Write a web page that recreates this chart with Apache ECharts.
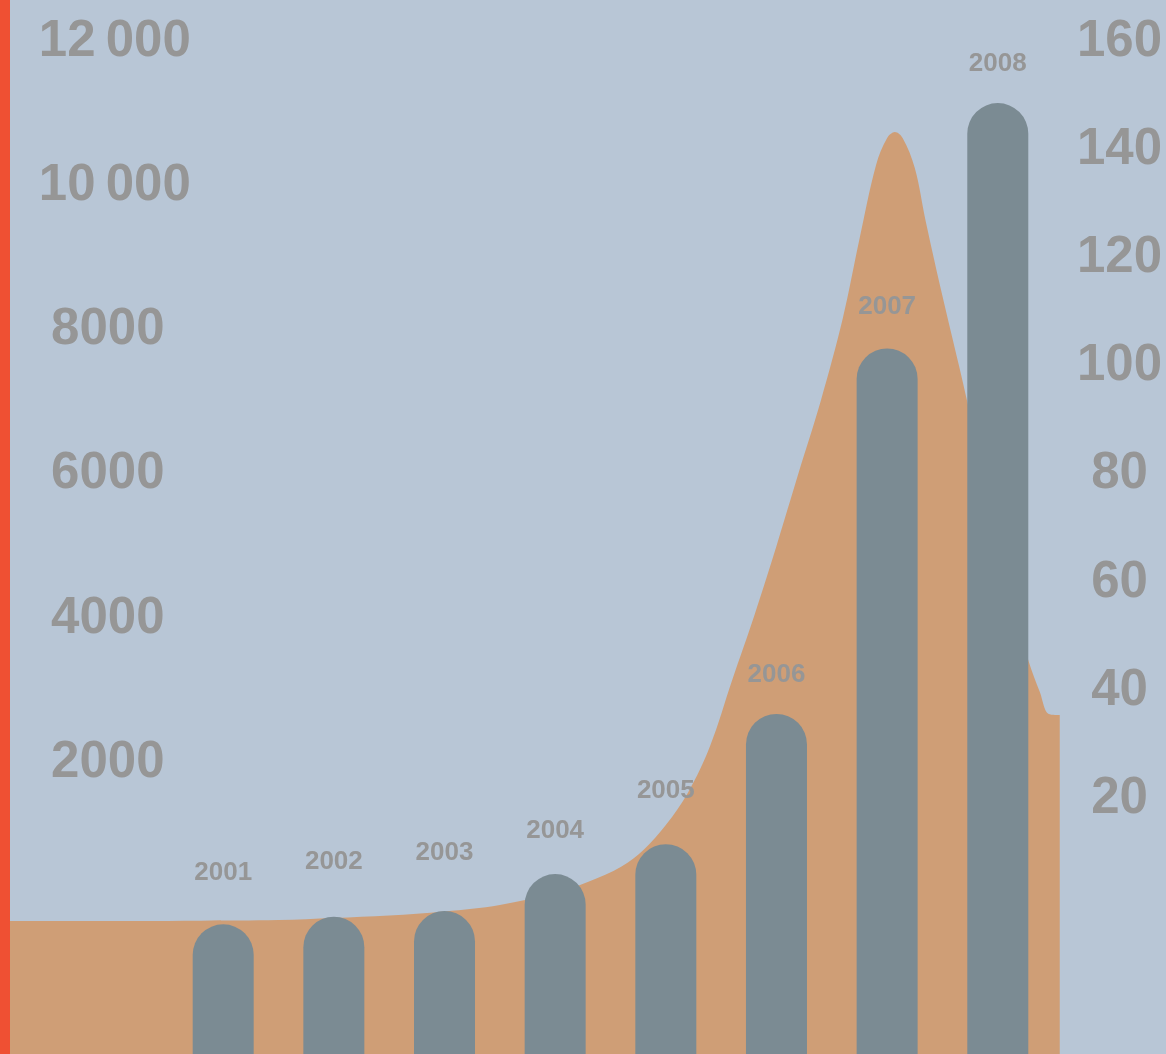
<!DOCTYPE html>
<html>
<head>
<meta charset="utf-8">
<script src="https://cdn.jsdelivr.net/npm/echarts@6/dist/echarts.min.js"></script>
<style>
  html, body { margin: 0; padding: 0; background: #b8c6d6; }
  #chart { width: 1166px; height: 1054px; }
</style>
</head>
<body>
<div id="chart"></div>
<script>
// Years shown as pills
const years = [2001, 2002, 2003, 2004, 2005, 2006, 2007, 2008];
// Pill heights, counted up from the bottom edge
const pillValues = [20.4, 21.6, 22.5, 28.3, 33.0, 53.5, 111.0, 149.6];

// Curve behind the pills: position along the years and value on the left scale
const curveYears = [1999.0, 1999.6, 2000.2, 2000.8, 2001.5, 2002.0, 2002.5, 2003.0, 2003.5,
  2004.0, 2004.3, 2004.6, 2004.8, 2005.0, 2005.2, 2005.4, 2005.6, 2005.8, 2006.0, 2006.2,
  2006.4, 2006.6, 2006.75, 2006.9, 2007.0, 2007.07, 2007.14, 2007.25, 2007.35, 2007.5,
  2007.65, 2007.8, 2008.0, 2008.2, 2008.28, 2008.38, 2008.46, 2008.56];
const curveValues = [-255, -255, -254, -250, -241, -213, -179, -123, -33,
  140, 290, 500, 733, 1076, 1524, 2171, 3086, 3980, 4944, 5958,
  6954, 8104, 9199, 10226, 10600, 10683, 10600, 10183, 9437, 8409,
  7439, 6441, 5151, 3807, 3340, 2920, 2615, 2600];

// Tick labels
const leftTicks = [2000, 4000, 6000, 8000, 10000, 12000];
const rightTicks = [20, 40, 60, 80, 100, 120, 140, 160];

// Spacing between each pill top and its year label
const labelLift = [39, 42, 45, 30, 40, 26, 29, 26];

const FONT = "'Liberation Sans', Arial, Helvetica, sans-serif";
const GREY = '#969696';

const groupDigits = v => v >= 10000
  ? String(v).replace(/\B(?=(\d{3})+(?!\d))/g, '\u2009')
  : String(v);

const tickText = { fontFamily: FONT, fontSize: 51, fontWeight: 'bold', color: GREY };

const gridBox = { left: 1.88, right: -53.1 };

const chart = echarts.init(document.getElementById('chart'), null, { renderer: 'canvas' });

chart.setOption({
  backgroundColor: '#b8c6d6',
  animation: false,
  grid: [
    Object.assign({ top: 37, height: 1298.4, outerBoundsMode: 'none', containLabel: false }, gridBox),
    Object.assign({ top: 37, bottom: 0, outerBoundsMode: 'none', containLabel: false }, gridBox)
  ],
  xAxis: [
    { gridIndex: 0, type: 'value', min: 1999, max: 2010, show: false },
    { gridIndex: 1, type: 'value', min: 1999, max: 2010, show: false }
  ],
  yAxis: [
    {
      gridIndex: 0, type: 'value', position: 'left',
      min: -6000, max: 12000, interval: 2000,
      axisLine: { show: false }, axisTick: { show: false }, splitLine: { show: false },
      axisLabel: Object.assign({
        inside: true, margin: 105.9, align: 'center', verticalAlign: 'middle',
        padding: [9, 0, 0, 0],
        formatter: v => leftTicks.includes(v)
          ? (v >= 10000 ? '{w|' + groupDigits(v) + '}' : groupDigits(v))
          : '',
        rich: { w: Object.assign({ padding: [0, 0, 0, 14] }, tickText) }
      }, tickText)
    },
    {
      gridIndex: 0, type: 'value', position: 'right',
      min: -80, max: 160, interval: 20,
      axisLine: { show: false }, axisTick: { show: false }, splitLine: { show: false },
      axisLabel: Object.assign({
        inside: true, margin: 99.6, align: 'center', verticalAlign: 'middle',
        formatter: v => rightTicks.includes(v) ? '{r|' + v + '}' : '',
        rich: { r: Object.assign({ padding: [9, 0, 0, 0] }, tickText) }
      }, tickText)
    },
    { gridIndex: 1, type: 'value', min: 0, max: 160, show: false }
  ],
  series: [
    {
      type: 'line',
      xAxisIndex: 0, yAxisIndex: 0,
      data: curveYears.map((y, i) => [y, curveValues[i]]),
      smooth: 0.35,
      symbol: 'none',
      lineStyle: { width: 0 },
      areaStyle: { color: '#cf9e76', opacity: 1, origin: 'start' },
      z: 1,
      silent: true
    },
    {
      type: 'bar',
      xAxisIndex: 1, yAxisIndex: 2,
      barWidth: 61,
      data: years.map((y, i) => ({
        value: [y, pillValues[i]],
        label: { distance: labelLift[i] }
      })),
      itemStyle: { color: '#7b8b93', borderRadius: [30.5, 30.5, 0, 0] },
      label: {
        show: true, position: 'top',
        fontFamily: FONT, fontSize: 26, fontWeight: 'bold', color: GREY,
        formatter: p => String(p.value[0])
      },
      z: 2,
      silent: true
    }
  ],
  graphic: [
    {
      type: 'rect', left: 0, top: 0, z: 100,
      shape: { width: 10, height: 1054 },
      style: { fill: '#ef5033' }
    }
  ]
});
</script>
</body>
</html>
